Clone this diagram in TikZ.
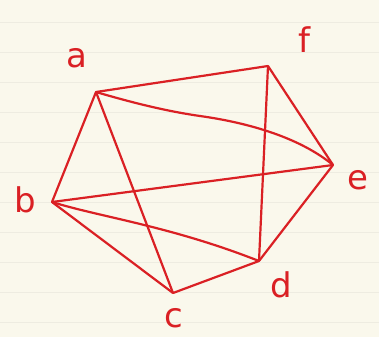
\documentclass[tikz,border=0pt]{standalone}
\usepackage{fontspec}
\setmainfont{DejaVu Sans}
\definecolor{pen}{RGB}{218,32,36}
\definecolor{paper}{RGB}{250,248,236}
\definecolor{rule}{RGB}{238,236,225}
\begin{document}
\begin{tikzpicture}[x=1pt,y=-1pt,
  edge/.style={draw=pen,line width=2.2pt,line cap=round,line join=round},
  vtx/.style={inner sep=0pt,minimum size=0pt},
  lbl/.style={text=pen,font=\fontsize{34}{36}\selectfont,inner sep=0pt}]
\fill[paper] (0,0) rectangle (379,337);
\useasboundingbox (0,0) rectangle (379,337);
\foreach \y in {22,52,82,112,142,172,202,232,262,292,322}
  \draw[rule,line width=0.6pt] (0,\y) -- (379,\y);
\node[vtx] (a) at (96,92) {};
\node[vtx] (f) at (268,66) {};
\node[vtx] (e) at (333,165) {};
\node[vtx] (d) at (259,261) {};
\node[vtx] (c) at (173,293) {};
\node[vtx] (b) at (52,202) {};
\node[lbl] (la) at (77,58) {a};
\node[lbl] (lf) at (304,40) {f};
\node[lbl] (le) at (358,180) {e};
\node[lbl] (lb) at (25,200) {b};
\node[lbl] (lc) at (174,318) {c};
\node[lbl] (ld) at (281,285) {d};
\draw[edge] (a) -- (f);
\draw[edge] (f) -- (e);
\draw[edge] (e) -- (d);
\draw[edge] (d) -- (c);
\draw[edge] (c) -- (b);
\draw[edge] (b) -- (a);
\draw[edge] (a) -- (c);
\draw[edge] (f) -- (d);
\draw[edge] (b) -- (e);
\draw[edge] (a) .. controls (130,102) and (165,111) .. (200,116)
  .. controls (250,123) and (300,138) .. (e);
\draw[edge] (b) .. controls (100,217) and (170,226) .. (d);
\end{tikzpicture}
\end{document}
